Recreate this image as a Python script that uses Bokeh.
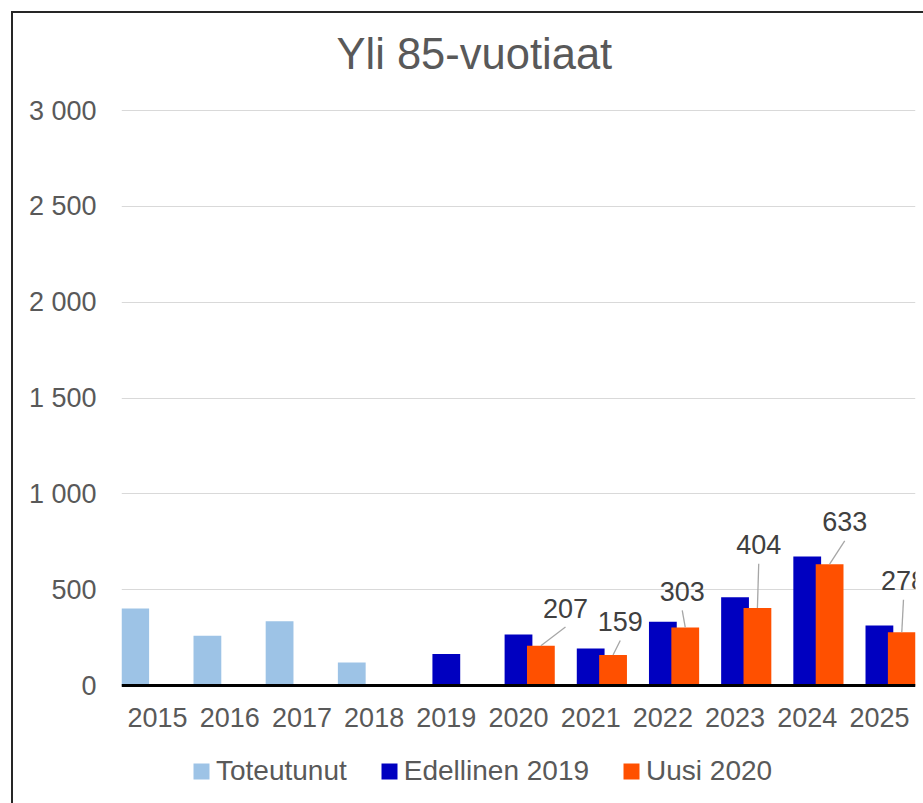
from bokeh.plotting import figure
from bokeh.models import (ColumnDataSource, FactorRange, Range1d, FixedTicker,
                          Legend, LegendItem, LabelSet, InlineStyleSheet)
from bokeh.transform import dodge
from bokeh.core.properties import value
from bokeh.embed import file_html
from bokeh.resources import INLINE

# ---------------- data ----------------
title_text = "Yli 85-vuotiaat"
years = ["2015", "2016", "2017", "2018", "2019", "2020",
         "2021", "2022", "2023", "2024", "2025"]
toteutunut = [402, 259, 335, 120, None, None, None, None, None, None, None]
edellinen = [None, None, None, None, 165, 266, 193, 332, 461, 673, 313]
uusi = [None, None, None, None, None, 207, 159, 303, 404, 633, 278]
series_names = ["Toteutunut", "Edellinen 2019", "Uusi 2020"]
y_ticks = [0, 500, 1000, 1500, 2000, 2500, 3000]
y_tick_labels = ["0", "500", "1 000", "1 500", "2 000", "2 500", "3 000"]

# ---------------- style / placement ----------------
colors = ["#9DC3E6", "#0000C0", "#FF5000"]
offsets = [-0.31, 0.0, 0.31]
BAR_W = 0.385
FONT = "Liberation Sans"
TXT = "#595959"
LBL = "#404040"
W, H = 923, 803
ML, MR, MT, MB = 121, 8, 100, 0
ZERO_PX, TOP_PX = 685, 110          # page rows of the 0 and top-tick gridlines
px_per_unit = (ZERO_PX - TOP_PX) / y_ticks[-1]
Y_START = -(H - MB - ZERO_PX) / px_per_unit
Y_END = y_ticks[-1] + (TOP_PX - MT) / px_per_unit
frame_w = W - ML - MR
px_per_cat = frame_w / len(years)
# data label placement (pixels from top-centre of the orange bar; dy upward)
label_dx = [24.6, 7.2, -3.0, 1.3, 15.1, 1.7]
label_dy = [37.8, 33.6, 36.0, 63.4, 42.3, 51.5]
LEADER_GAP = 19

p = figure(x_range=FactorRange(*years, range_padding=0),
           y_range=Range1d(Y_START, Y_END),
           width=W, height=H, output_backend="svg", toolbar_location=None,
           min_border_left=ML, min_border_right=MR,
           min_border_top=MT, min_border_bottom=MB)

renderers = []
for vals, col, off in zip([toteutunut, edellinen, uusi], colors, offsets):
    yrs = [y for y, v in zip(years, vals) if v is not None]
    vs = [v for v in vals if v is not None]
    src = ColumnDataSource(dict(year=yrs, value=vs))
    r = p.vbar(x=dodge("year", off, range=p.x_range), top="value", width=BAR_W,
               source=src, fill_color=col, line_color=None)
    renderers.append(r)

# data labels + leader lines for the newest series
lab_years = [y for y, v in zip(years, uusi) if v is not None]
lab_vals = [v for v in uusi if v is not None]
lab_src = ColumnDataSource(dict(
    year=lab_years, value=lab_vals, label=[str(v) for v in lab_vals],
    dx=label_dx, dy=label_dy))
seg_src = ColumnDataSource(dict(
    x0=[(y, offsets[2]) for y in lab_years],
    y0=lab_vals,
    x1=[(y, offsets[2] + dx / px_per_cat) for y, dx in zip(lab_years, label_dx)],
    y1=[v + (dy - LEADER_GAP) / px_per_unit for v, dy in zip(lab_vals, label_dy)]))
p.segment(x0="x0", y0="y0", x1="x1", y1="y1", source=seg_src,
          line_color="#A6A6A6", line_width=1.3)
labels = LabelSet(x=dodge("year", offsets[2], range=p.x_range), y="value",
                  text="label", x_offset="dx", y_offset="dy", source=lab_src,
                  text_align="center", text_baseline="middle",
                  text_font=value(FONT), text_font_size="27px", text_color=LBL)
p.add_layout(labels)

# axes and grid
p.yaxis.ticker = FixedTicker(ticks=y_ticks)
p.yaxis.major_label_overrides = {t: s for t, s in zip(y_ticks, y_tick_labels)}
p.yaxis.axis_line_color = None
p.yaxis.major_tick_line_color = None
p.yaxis.major_tick_out = 0
p.yaxis.minor_tick_line_color = None
p.yaxis.major_label_standoff = 25
p.xaxis.fixed_location = 0
p.xaxis.axis_line_color = "black"
p.xaxis.axis_line_width = 3
p.xaxis.major_tick_line_color = None
p.xaxis.major_label_standoff = 16
for ax in (p.xaxis[0], p.yaxis[0]):
    ax.major_label_text_font = FONT
    ax.major_label_text_font_size = "27px"
    ax.major_label_text_color = TXT
p.xgrid.grid_line_color = None
p.ygrid.ticker = FixedTicker(ticks=y_ticks)
p.ygrid.grid_line_color = "#D9D9D9"
p.ygrid.grid_line_width = 1
p.outline_line_color = None

# title
p.title.text = title_text
p.title.text_font = FONT
p.title.text_font_size = "43.5px"
p.title.text_font_style = "normal"
p.title.text_color = TXT
p.title.align = "left"
p.title.offset = 215
p.title.standoff = 46

# legend (inside the frame, below the zero axis)
legend = Legend(items=[LegendItem(label=n, renderers=[r]) for n, r in zip(series_names, renderers)],
                orientation="horizontal", location=(70, 16),
                label_text_font=FONT, label_text_font_size="28px",
                label_text_color=TXT, glyph_width=20, glyph_height=20,
                label_standoff=5, spacing=32, padding=0, margin=0,
                border_line_color=None, background_fill_alpha=0)
p.add_layout(legend)

# chart border (outer frame of the chart area)
p.stylesheets = [InlineStyleSheet(css=(
    ":host::after{content:'';position:absolute;left:11px;top:11px;"
    "width:calc(100% - 11px);height:calc(100% - 11px);"
    "border-left:2px solid #262626;border-top:2px solid #262626;"
    "box-sizing:border-box;pointer-events:none;}"))]

open("out.html", "w").write(file_html(p, INLINE))
